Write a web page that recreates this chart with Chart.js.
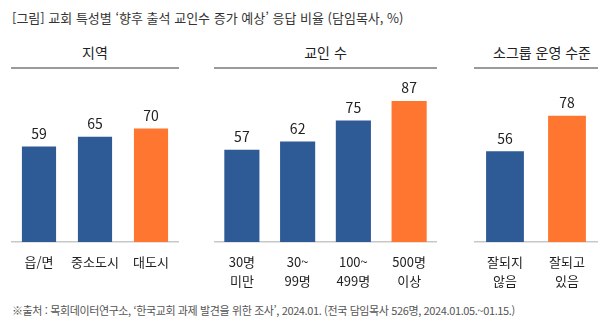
<!DOCTYPE html>
<html lang="ko">
<head>
<meta charset="utf-8">
<title>교회 특성별 향후 출석 교인수 증가 예상</title>
<script src="https://cdn.jsdelivr.net/npm/chart.js@4.4.1/dist/chart.umd.min.js"></script>
<style>
  html, body { margin: 0; padding: 0; background: #fff; }
  body { width: 614px; height: 332px; position: relative; overflow: hidden;
         font-family: "Noto Sans CJK KR", "Noto Sans", sans-serif; color: #222; }
  .title { position: absolute; left: 12px; top: 8px; font-size: 13px; color: #333; white-space: nowrap; }
  .head { position: absolute; top: 42px; font-size: 14px; color: #222; text-align: center; white-space: nowrap; }
  .rule { position: absolute; top: 67px; height: 2px; background: #9a9a9a; }
  .box { position: absolute; top: 80px; height: 214px; }
  .note { position: absolute; left: 12px; top: 302px; font-size: 11px; color: #555; white-space: nowrap; letter-spacing: -0.38px; }
</style>
</head>
<body>
<div class="title">[그림] 교회 특성별 ‘향후 출석 교인수 증가 예상’ 응답 비율 (담임목사, %)</div>

<div class="head" style="left:11px;width:168px">지역</div>
<div class="rule" style="left:11px;width:168px"></div>
<div class="head" style="left:214px;width:223px">교인 수</div>
<div class="rule" style="left:214px;width:223px"></div>
<div class="head" style="left:487px;width:110px">소그룹 운영 수준</div>
<div class="rule" style="left:474px;width:124px"></div>

<div class="box" style="left:11px;width:168px"><canvas id="regionChart"></canvas></div>
<div class="box" style="left:214px;width:223px"><canvas id="sizeChart"></canvas></div>
<div class="box" style="left:474px;width:124px"><canvas id="groupChart"></canvas></div>

<div class="note">※출처 : 목회데이터연구소, ‘한국교회 과제 발견을 위한 조사’, 2024.01. (전국 담임목사 526명, 2024.01.05.~01.15.)</div>

<script>
// 지역
const regionLabels = ['읍/면', '중소도시', '대도시'];
const regionValues = [59, 65, 70];

// 교인 수
const sizeLabels = [['30명', '미만'], ['30~', '99명'], ['100~', '499명'], ['500명', '이상']];
const sizeValues = [57, 62, 75, 87];

// 소그룹 운영 수준
const groupLabels = [['잘되지', '않음'], ['잘되고', '있음']];
const groupValues = [56, 78];

const BLUE = '#2e5a95';
const ORANGE = '#fe7630';
const FONT = '"Noto Sans CJK KR", "Noto Sans", sans-serif';

// value above each bar
const valueLabels = {
  id: 'valueLabels',
  afterDatasetsDraw(chart) {
    const ctx = chart.ctx;
    const ds = chart.data.datasets[0];
    ctx.save();
    ctx.font = '14px ' + FONT;
    ctx.fillStyle = '#222';
    ctx.textAlign = 'center';
    ctx.textBaseline = 'middle';
    chart.getDatasetMeta(0).data.forEach(function (bar, i) {
      ctx.fillText(ds.data[i], bar.x, bar.y - 13);
    });
    ctx.restore();
  }
};

function makeChart(id, labels, values, barPct) {
  return new Chart(document.getElementById(id), {
    type: 'bar',
    data: {
      labels: labels,
      datasets: [{
        data: values,
        backgroundColor: function (c) {
          return c.dataIndex === values.length - 1 ? ORANGE : BLUE;
        },
        barPercentage: barPct,
        categoryPercentage: 1
      }]
    },
    options: {
      responsive: true,
      maintainAspectRatio: false,
      animation: false,
      layout: { padding: 0 },
      plugins: {
        legend: { display: false },
        tooltip: { enabled: false }
      },
      scales: {
        x: {
          grid: { display: false },
          border: { display: true, color: '#c8c8c8', width: 1.5 },
          ticks: {
            color: '#222',
            font: { family: FONT, size: 13, lineHeight: 1.5 },
            padding: 2,
            autoSkip: false,
            maxRotation: 0
          },
          afterFit: function (scale) { scale.height = 52; }
        },
        y: { display: false, min: 0, max: 100 }
      }
    },
    plugins: [valueLabels]
  });
}

makeChart('regionChart', regionLabels, regionValues, 0.61);
makeChart('sizeChart', sizeLabels, sizeValues, 0.63);
makeChart('groupChart', groupLabels, groupValues, 0.61);
</script>
</body>
</html>
